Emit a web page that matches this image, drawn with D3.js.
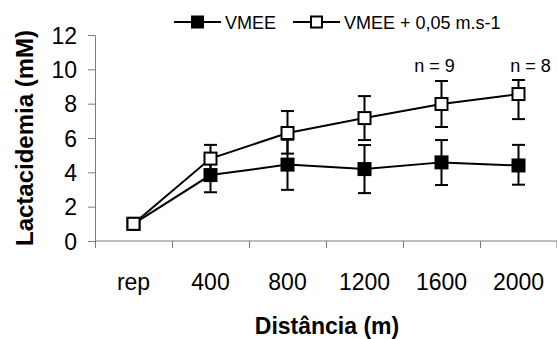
<!DOCTYPE html>
<head>
    <meta charset="utf-8">
</head>
<style>
    body { margin: 0; background: #fff; }
    svg { font-family: "Liberation Sans", Arial, sans-serif; }
    .tick-label { font-size: 23px; fill: #000; }
    .axis-title { font-size: 23px; font-weight: bold; fill: #000; }
    .small-label { font-size: 18px; fill: #000; }
</style>
<svg id="chart" width="557" height="339"></svg>
<script src="https://cdn.jsdelivr.net/npm/d3@7"></script>
<script>

    // data
    var categories = ["rep", "400", "800", "1200", "1600", "2000"];
    var vmee = [1.0, 3.84, 4.45, 4.19, 4.58, 4.4];
    var vmeeErrUp = [0, 1.0, 1.45, 1.4, 1.3, 1.2];
    var vmeeErrDown = [0, 1.0, 1.47, 1.4, 1.32, 1.12];
    var vmeePlus = [1.0, 4.8, 6.29, 7.16, 7.98, 8.56];
    var vmeePlusErrUp = [0, 0.8, 1.28, 1.28, 1.34, 0.82];
    var vmeePlusErrDown = [0, 0.8, 1.2, 1.28, 1.34, 1.46];
    var yTicks = [0, 2, 4, 6, 8, 10, 12];
    var nLabels = [{cat: "1600", text: "n = 9", dx: -7}, {cat: "2000", text: "n = 8", dx: 12}];

    var svg = d3.select("#chart");
    var margin = {left: 95, right: 0, top: 35, bottom: 98};
    var width = 557, height = 339;

    var x = d3.scaleBand()
        .domain(categories)
        .range([margin.left, width - margin.right])
        .padding(0);

    var y = d3.scaleLinear()
        .domain([0, 12])
        .range([height - margin.bottom, margin.top]);

    var axisColor = "#7a7a7a";

    // y axis
    var yAxis = svg.append("g")
        .attr("transform", "translate(" + margin.left + ",0)")
        .call(d3.axisLeft(y).tickValues(yTicks).tickSize(7).tickPadding(11).tickSizeOuter(0));
    yAxis.attr("font-family", null).attr("font-size", null);
    yAxis.select(".domain").attr("stroke", axisColor);
    yAxis.selectAll(".tick line").attr("stroke", axisColor);
    yAxis.selectAll(".tick text")
        .attr("class", "tick-label")
        .attr("dy", "0.36em");

    // x axis: line plus ticks at band boundaries
    var xg = svg.append("g");
    xg.append("line")
        .attr("x1", x.range()[0]).attr("x2", x.range()[1])
        .attr("y1", y(0)).attr("y2", y(0))
        .attr("stroke", axisColor).attr("stroke-width", 1);
    var edges = categories.map(function (c) { return x(c); }).concat([x.range()[1] - 0.5]);
    xg.selectAll(".xtick")
        .data(edges)
        .enter().append("line")
        .attr("class", "xtick")
        .attr("x1", function (d) { return d + 0.5; })
        .attr("x2", function (d) { return d + 0.5; })
        .attr("y1", y(0))
        .attr("y2", y(0) + 7)
        .attr("stroke", axisColor);
    xg.selectAll(".xlabel")
        .data(categories)
        .enter().append("text")
        .attr("class", "tick-label")
        .attr("x", function (d) { return x(d) + x.bandwidth() / 2; })
        .attr("y", 290)
        .attr("text-anchor", "middle")
        .text(function (d) { return d; });

    // axis titles
    svg.append("text")
        .attr("class", "axis-title")
        .style("font-size", "24px")
        .attr("transform", "translate(33," + ((y(0) + y(12)) / 2) + ") rotate(-90)")
        .attr("text-anchor", "middle")
        .text("Lactacidemia (mM)");
    svg.append("text")
        .attr("class", "axis-title")
        .attr("x", 327)
        .attr("y", 334)
        .attr("text-anchor", "middle")
        .text("Distância (m)");

    var cx = function (i) { return x(categories[i]) + x.bandwidth() / 2; };

    function drawSeries(values, errUp, errDown, filled) {
        var g = svg.append("g");
        var line = d3.line()
            .x(function (d, i) { return cx(i); })
            .y(function (d) { return y(d); });
        g.append("path")
            .datum(values)
            .attr("d", line)
            .attr("fill", "none")
            .attr("stroke", "#000")
            .attr("stroke-width", 2);

        // error bars: one entry per point that has one
        var errs = values.map(function (v, i) {
            return {i: i, hi: v + errUp[i], lo: v - errDown[i]};
        }).filter(function (d) { return d.hi > d.lo; });

        var bars = g.selectAll(".err")
            .data(errs)
            .enter().append("g")
            .attr("class", "err");
        bars.append("line")
            .attr("x1", function (d) { return cx(d.i); })
            .attr("x2", function (d) { return cx(d.i); })
            .attr("y1", function (d) { return y(d.hi); })
            .attr("y2", function (d) { return y(d.lo); })
            .attr("stroke", "#000").attr("stroke-width", 2);
        ["hi", "lo"].forEach(function (k) {
            bars.append("line")
                .attr("x1", function (d) { return cx(d.i) - 6.5; })
                .attr("x2", function (d) { return cx(d.i) + 6.5; })
                .attr("y1", function (d) { return y(d[k]); })
                .attr("y2", function (d) { return y(d[k]); })
                .attr("stroke", "#000").attr("stroke-width", 2);
        });

        var s = filled ? 14 : 12;
        g.selectAll(".marker")
            .data(values)
            .enter().append("rect")
            .attr("x", function (d, i) { return cx(i) - s / 2; })
            .attr("y", function (d) { return y(d) - s / 2; })
            .attr("width", s)
            .attr("height", s)
            .attr("fill", filled ? "#000" : "#fff")
            .attr("stroke", "#000")
            .attr("stroke-width", filled ? 0 : 2);
    }

    drawSeries(vmee, vmeeErrUp, vmeeErrDown, true);
    drawSeries(vmeePlus, vmeePlusErrUp, vmeePlusErrDown, false);

    // n labels
    svg.selectAll(".nlabel")
        .data(nLabels)
        .enter().append("text")
        .attr("class", "small-label")
        .attr("x", function (d) { return x(d.cat) + x.bandwidth() / 2 + d.dx; })
        .attr("y", 72)
        .attr("text-anchor", "middle")
        .text(function (d) { return d.text; });

    // legend
    var legendItems = [
        {label: "VMEE", filled: true, x: 174},
        {label: "VMEE + 0,05 m.s-1", filled: false, x: 293}
    ];
    var leg = svg.selectAll(".legend")
        .data(legendItems)
        .enter().append("g")
        .attr("transform", function (d) { return "translate(" + d.x + ",22)"; });
    leg.append("line")
        .attr("x1", 0).attr("x2", 47)
        .attr("stroke", "#000").attr("stroke-width", 2);
    leg.append("rect")
        .attr("x", function (d) { return d.filled ? 17 : 18; })
        .attr("y", function (d) { return d.filled ? -6.5 : -5.5; })
        .attr("width", function (d) { return d.filled ? 13 : 11; })
        .attr("height", function (d) { return d.filled ? 13 : 11; })
        .attr("fill", function (d) { return d.filled ? "#000" : "#fff"; })
        .attr("stroke", "#000")
        .attr("stroke-width", function (d) { return d.filled ? 0 : 2; });
    leg.append("text")
        .attr("class", "small-label")
        .attr("x", 51)
        .attr("y", 7)
        .text(function (d) { return d.label; });

</script>
